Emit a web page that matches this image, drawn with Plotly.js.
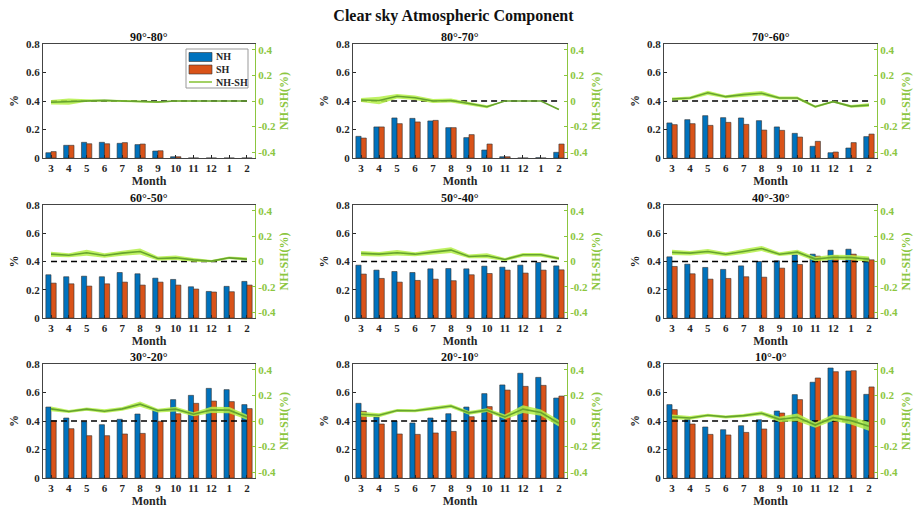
<!DOCTYPE html>
<html><head><meta charset="utf-8">
<script src="https://cdn.plot.ly/plotly-3.0.1.min.js"></script>
<style>body{margin:0;background:#fff;} #chart{width:916px;height:509px;}</style>
</head><body><div id="chart"></div>
<script>
const months = ['3','4','5','6','7','8','9','10','11','12','1','2'];
const panelTitles = ['90°-80°','80°-70°','70°-60°','60°-50°','50°-40°','40°-30°','30°-20°','20°-10°','10°-0°'];
const leftTicks = [0, 0.2, 0.4, 0.6, 0.8];
const rightTicks = [-0.4, -0.2, 0, 0.2, 0.4];
const legendNames = ['NH','SH','NH-SH'];

// 90-80
const nh1 = [0.037,0.089,0.11,0.11,0.103,0.094,0.049,0.009,0,0,0,0];
const sh1 = [0.045,0.089,0.10,0.10,0.108,0.098,0.051,0.009,0,0,0,0];
const diff1 = [-0.01,-0.005,0.004,0.005,0,-0.004,-0.008,0,0,0,0,0];
const spread1 = [0.018,0.025,0.01,0.008,0.008,0.008,0.008,0.004,0,0,0,0];
// 80-70
const nh2 = [0.152,0.218,0.281,0.278,0.26,0.213,0.143,0.056,0.009,0,0.002,0.04];
const sh2 = [0.14,0.218,0.241,0.253,0.264,0.213,0.164,0.098,0.009,0,0,0.098];
const diff2 = [0.008,0.004,0.037,0.026,0.0,0.004,-0.02,-0.045,0,0,0,-0.066];
const spread2 = [0.015,0.03,0.018,0.018,0.015,0.016,0.012,0.012,0,0,0,0.004];
// 70-60
const nh3 = [0.246,0.269,0.297,0.283,0.281,0.262,0.218,0.173,0.082,0.037,0.07,0.15];
const sh3 = [0.234,0.241,0.229,0.25,0.236,0.196,0.194,0.147,0.117,0.042,0.108,0.168];
const diff3 = [0.016,0.024,0.064,0.034,0.05,0.061,0.024,0.024,-0.045,-0.005,-0.042,-0.032];
const spread3 = [0.012,0.012,0.016,0.012,0.016,0.018,0.012,0.012,0.01,0.006,0.01,0.014];
// 60-50
const nh4 = [0.306,0.292,0.296,0.292,0.322,0.313,0.282,0.273,0.221,0.188,0.224,0.259];
const sh4 = [0.247,0.242,0.226,0.242,0.254,0.233,0.254,0.233,0.205,0.184,0.186,0.233];
const diff4 = [0.058,0.05,0.069,0.048,0.066,0.079,0.024,0.029,0.013,0.003,0.029,0.019];
const spread4 = [0.02,0.016,0.024,0.018,0.02,0.024,0.016,0.018,0.015,0.008,0.01,0.012];
// 50-40
const nh5 = [0.374,0.339,0.329,0.322,0.348,0.35,0.348,0.367,0.36,0.374,0.393,0.369];
const sh5 = [0.311,0.28,0.254,0.266,0.275,0.264,0.306,0.315,0.339,0.318,0.339,0.341];
const diff5 = [0.064,0.058,0.069,0.058,0.074,0.09,0.04,0.045,0.016,0.053,0.053,0.024];
const spread5 = [0.02,0.018,0.022,0.016,0.02,0.022,0.015,0.02,0.012,0.015,0.015,0.012];
// 40-30
const nh6 = [0.433,0.381,0.358,0.344,0.369,0.40,0.405,0.447,0.452,0.48,0.487,0.426];
const sh6 = [0.365,0.313,0.275,0.28,0.292,0.289,0.353,0.379,0.438,0.442,0.452,0.412];
const diff6 = [0.072,0.066,0.079,0.058,0.079,0.103,0.058,0.074,0.019,0.034,0.032,0.019];
const spread6 = [0.02,0.018,0.02,0.016,0.02,0.02,0.015,0.018,0.018,0.02,0.02,0.02];
// 30-20
const nh7 = [0.498,0.421,0.395,0.374,0.412,0.449,0.475,0.55,0.58,0.629,0.62,0.515];
const sh7 = [0.402,0.346,0.297,0.297,0.309,0.313,0.398,0.451,0.524,0.54,0.536,0.487];
const diff7 = [0.095,0.074,0.093,0.077,0.095,0.132,0.082,0.093,0.053,0.087,0.085,0.029];
const spread7 = [0.018,0.012,0.012,0.015,0.015,0.02,0.015,0.018,0.015,0.025,0.025,0.02];
// 20-10
const nh8 = [0.524,0.428,0.40,0.386,0.421,0.451,0.498,0.592,0.653,0.735,0.706,0.561];
const sh8 = [0.468,0.379,0.309,0.306,0.316,0.327,0.43,0.501,0.617,0.643,0.65,0.575];
const diff8 = [0.053,0.045,0.082,0.08,0.098,0.117,0.064,0.085,0.032,0.093,0.066,-0.018];
const spread8 = [0.02,0.015,0.012,0.012,0.015,0.015,0.015,0.015,0.018,0.03,0.025,0.025];
// 10-0
const nh9 = [0.515,0.412,0.358,0.339,0.367,0.409,0.47,0.585,0.672,0.772,0.751,0.587];
const sh9 = [0.48,0.379,0.306,0.302,0.32,0.344,0.456,0.55,0.702,0.746,0.753,0.639];
const diff9 = [0.032,0.024,0.045,0.032,0.042,0.061,0.013,0.029,-0.032,0.026,0.003,-0.042];
const spread9 = [0.018,0.015,0.012,0.012,0.012,0.015,0.02,0.03,0.02,0.025,0.03,0.035];

const NH = [nh1,nh2,nh3,nh4,nh5,nh6,nh7,nh8,nh9];
const SH = [sh1,sh2,sh3,sh4,sh5,sh6,sh7,sh8,sh9];
const DIFF = [diff1,diff2,diff3,diff4,diff5,diff6,diff7,diff8,diff9];
const SPREAD = [spread1,spread2,spread3,spread4,spread5,spread6,spread7,spread8,spread9];

const W = 916, H = 509;
const colPx = [[43,255],[353,567],[664,877]];
const rowPx = [[44,158],[205,318],[364,478]];
const FONT = 'Liberation Serif, Times New Roman, serif';
const DARK = '#262626';
const GREEN_AX = '#8cc63f';
const GREEN_LINE = '#66a32e';
const BLUE = '#0072BD', ORANGE = '#D95319';
const xs = months.map((m,i)=>i+1);
const px = v => v/W, py = v => 1 - v/H;

const data = [];
const layout = {
  width: W, height: H,
  margin: {l:0,r:0,t:0,b:0},
  paper_bgcolor: '#fff', plot_bgcolor: '#fff',
  barmode: 'group', bargap: 0.42, bargroupgap: 0,
  showlegend: false,
  title: {text:'Clear sky Atmospheric Component', x:0.495, xanchor:'center', y:1-15/H, yanchor:'middle',
          font:{family:FONT,size:16,color:'#111',weight:'bold'}},
  annotations: [],
  shapes: [],
  font: {family: FONT}
};

for (let p=0; p<9; p++) {
  const r = Math.floor(p/3), c = p%3;
  const xi = p+1, yl = 2*p+1, yr = 2*p+2;
  const xname = 'x'+(xi===1?'':xi), ylname = 'y'+(yl===1?'':yl), yrname = 'y'+yr;
  const xd = [colPx[c][0]/W, colPx[c][1]/W];
  const yd = [1-rowPx[r][1]/H, 1-rowPx[r][0]/H];
  layout['xaxis'+(xi===1?'':xi)] = {
    domain: xd, anchor: ylname, range:[0.55,12.45],
    tickmode:'array', tickvals: xs, ticktext: months,
    ticks:'inside', ticklen:3, tickcolor:DARK,
    showline:true, linecolor:'#444', linewidth:1, mirror:true,
    showgrid:false, zeroline:false, fixedrange:true,
    tickfont:{family:FONT,size:11,color:DARK,weight:'bold'},
    title:{text:'Month', standoff:0, font:{family:FONT,size:12,color:DARK,weight:'bold'}},
    automargin:false
  };
  layout['yaxis'+(yl===1?'':yl)] = {
    domain: yd, anchor: xname, range:[0,0.8],
    tickmode:'array', tickvals: leftTicks, ticktext: leftTicks.map(v=>String(v)),
    ticks:'inside', ticklen:3, tickcolor:DARK,
    showline:true, linecolor:'#444', linewidth:1,
    showgrid:false, zeroline:false,
    tickfont:{family:FONT,size:11,color:DARK,weight:'bold'},
    title:{text:'%', standoff:4, font:{family:FONT,size:12,color:DARK,weight:'bold'}},
    automargin:false
  };
  layout['yaxis'+yr] = {
    domain: yd, anchor: xname, overlaying: ylname, side:'right', range:[-0.447,0.447],
    tickmode:'array', tickvals: rightTicks, ticktext: rightTicks.map(v=>String(v)),
    ticks:'inside', ticklen:3, tickcolor:GREEN_AX,
    showline:true, linecolor:GREEN_AX, linewidth:1,
    showgrid:false, zeroline:false,
    tickfont:{family:FONT,size:11,color:GREEN_AX,weight:'bold'},
    title:{text:'NH-SH(%)', standoff:4, font:{family:FONT,size:12,color:GREEN_AX,weight:'bold'}},
    automargin:false
  };
  layout.annotations.push({
    text: panelTitles[p], xref:'paper', yref:'paper',
    x:(xd[0]+xd[1])/2, y:1-(rowPx[r][0]-7)/H, xanchor:'center', yanchor:'middle',
    showarrow:false, font:{family:FONT,size:12,color:'#111',weight:'bold'}
  });

  data.push({type:'bar', name:'NH', x:xs, y:NH[p], xaxis:xname, yaxis:ylname,
    marker:{color:BLUE, line:{color:'#333',width:0.6}}, offsetgroup:'nh'});
  data.push({type:'bar', name:'SH', x:xs, y:SH[p], xaxis:xname, yaxis:ylname,
    marker:{color:ORANGE, line:{color:'#333',width:0.6}}, offsetgroup:'sh'});
  data.push({type:'scatter', mode:'lines', x:[xs[0], xs[xs.length-1]], y:[0,0], xaxis:xname, yaxis:yrname,
    line:{color:'#000', width:1.3, dash:'6px,4px'}, hoverinfo:'skip'});
  const up = DIFF[p].map((v,i)=>v+SPREAD[p][i]);
  const lo = DIFF[p].map((v,i)=>v-SPREAD[p][i]);
  data.push({type:'scatter', mode:'lines', x: xs.concat(xs.slice().reverse()), y: up.concat(lo.slice().reverse()),
    xaxis:xname, yaxis:yrname, fill:'toself', fillcolor:'rgba(180,240,70,0.85)', line:{width:0, color:'rgba(0,0,0,0)'},
    hoverinfo:'skip'});
  data.push({type:'scatter', mode:'lines', name:'NH-SH', x:xs, y:DIFF[p], xaxis:xname, yaxis:yrname,
    line:{color:GREEN_LINE, width:1.6}});
}

// legend box (panel 1), drawn in paper coordinates
layout.shapes.push({type:'rect', xref:'paper', yref:'paper', x0:px(186), x1:px(248), y0:py(49), y1:py(88),
  fillcolor:'#fff', line:{color:'#999', width:1}});
layout.shapes.push({type:'rect', xref:'paper', yref:'paper', x0:px(189), x1:px(212), y0:py(52.5), y1:py(61.5),
  fillcolor:BLUE, line:{color:'#333', width:0.6}});
layout.shapes.push({type:'rect', xref:'paper', yref:'paper', x0:px(189), x1:px(212), y0:py(65), y1:py(74),
  fillcolor:ORANGE, line:{color:'#333', width:0.6}});
layout.shapes.push({type:'line', xref:'paper', yref:'paper', x0:px(189), x1:px(212), y0:py(82), y1:py(82),
  line:{color:GREEN_AX, width:1.6}});
const legY = [57, 69.5, 82];
legendNames.forEach((n,i)=>{
  layout.annotations.push({text:n, xref:'paper', yref:'paper', x:px(214), y:py(legY[i]),
    xanchor:'left', yanchor:'middle', showarrow:false,
    font:{family:FONT,size:10,color:DARK,weight:'bold'}});
});

Plotly.newPlot('chart', data, layout, {staticPlot:true, displayModeBar:false});
</script>
</body></html>
